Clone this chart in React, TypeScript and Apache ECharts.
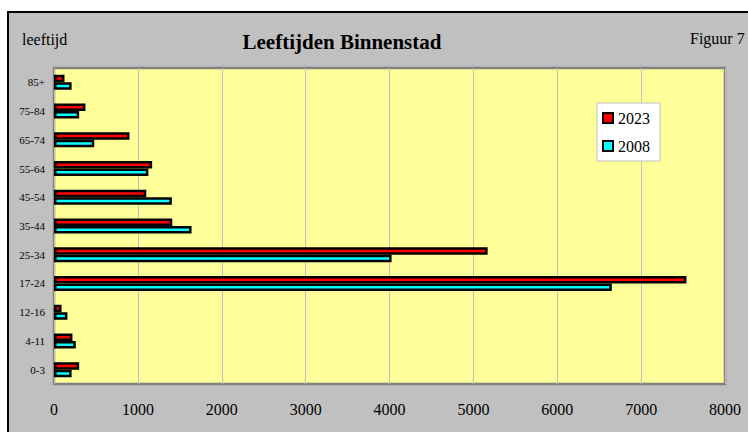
import React, { useEffect, useRef } from "react";
import * as echarts from "echarts";

const categories = ["0-3", "4-11", "12-16", "17-24", "25-34", "35-44", "45-54", "55-64", "65-74", "75-84", "85+"];
const values2023 = [300, 220, 90, 7540, 5170, 1410, 1100, 1170, 900, 375, 125];
const values2008 = [210, 260, 160, 6650, 4025, 1640, 1405, 1125, 480, 300, 210];
const xTicks = [0, 1000, 2000, 3000, 4000, 5000, 6000, 7000, 8000];

const FONT = "'Liberation Serif', 'Times New Roman', serif";

export default function App() {
  const ref = useRef<HTMLDivElement>(null);
  useEffect(() => {
    if (!ref.current) return;
    const chart = echarts.init(ref.current, undefined, { renderer: "svg" });
    chart.setOption({
      animation: false,
      backgroundColor: "#ffffff",
      graphic: [
        {
          type: "rect",
          z: -10,
          silent: true,
          shape: { x: 8, y: 12, width: 760, height: 440 },
          style: { fill: "#C0C0C0", stroke: "#000000", lineWidth: 2 },
        },
        {
          type: "text",
          left: 22,
          top: 31,
          style: { text: "leeftijd", font: `16px ${FONT}`, fill: "#000" },
        },
        {
          type: "text",
          left: 690,
          top: 30,
          style: { text: "Figuur 7", font: `16px ${FONT}`, fill: "#000" },
        },
        {
          type: "text",
          x: 342,
          y: 42,
          style: {
            text: "Leeftijden Binnenstad",
            font: `bold 21px ${FONT}`,
            fill: "#000",
            align: "center",
            verticalAlign: "middle",
          },
        },
      ],
      grid: {
        left: 54,
        top: 68,
        right: 23,
        bottom: 48,
        show: true,
        backgroundColor: "#FFFF99",
        borderColor: "#808080",
        borderWidth: 2.5,
        containLabel: false,
      },
      legend: {
        orient: "vertical",
        left: 597,
        top: 103,
        backgroundColor: "#ffffff",
        borderColor: "#C0C0C0",
        borderWidth: 1,
        padding: [7, 10, 7, 5],
        itemGap: 12,
        itemWidth: 10,
        itemHeight: 10,
        textStyle: { fontFamily: FONT, fontSize: 16, color: "#000" },
        data: [
          { name: "2023", icon: "rect", itemStyle: { color: "#FF0000", borderColor: "#000", borderWidth: 2 } },
          { name: "2008", icon: "rect", itemStyle: { color: "#00FFFF", borderColor: "#000", borderWidth: 2 } },
        ],
      },
      xAxis: {
        type: "value",
        min: xTicks[0],
        max: xTicks[xTicks.length - 1],
        interval: 1000,
        axisLine: { show: false },
        axisTick: { show: false },
        splitLine: { show: true, lineStyle: { color: "#C0C0C0", width: 1 } },
        axisLabel: {
          fontFamily: FONT,
          fontSize: 16,
          color: "#000",
          margin: 17,
          formatter: (v: number) => String(v),
        },
      },
      yAxis: {
        type: "category",
        data: categories,
        axisLine: { show: false },
        axisTick: { show: false },
        splitLine: { show: false },
        axisLabel: { fontFamily: FONT, fontSize: 11, color: "#000", margin: 9 },
      },
      series: [
        {
          name: "2023",
          type: "bar",
          data: values2023,
          barWidth: 7.5,
          barGap: "0%",
          itemStyle: { color: "#FF0000", borderColor: "#000", borderWidth: 2.5 },
        },
        {
          name: "2008",
          type: "bar",
          data: values2008,
          barWidth: 7.5,
          barGap: "0%",
          itemStyle: { color: "#00FFFF", borderColor: "#000", borderWidth: 2.5 },
        },
      ],
    });
    return () => chart.dispose();
  }, []);
  return (
    <div
      ref={ref}
      style={{ position: "absolute", left: 0, top: 0, width: 748, height: 432 }}
    />
  );
}
